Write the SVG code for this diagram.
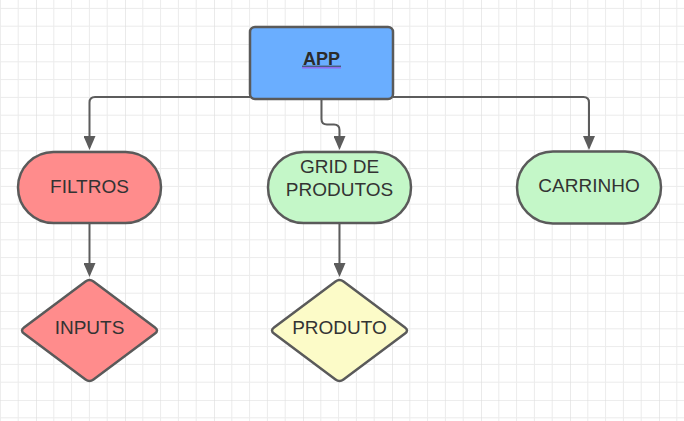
<svg xmlns="http://www.w3.org/2000/svg" width="684" height="421" viewBox="0 0 684 421">
  <defs>
    <pattern id="grid" patternUnits="userSpaceOnUse" x="36" y="44" width="89" height="89">
      <path d="M17.8,0V89M35.6,0V89M53.4,0V89M71.2,0V89M0,17.8H89M0,35.6H89M0,53.4H89M0,71.2H89" stroke="#ebebeb" stroke-width="1" fill="none"/>
      <path d="M0,0V89M0,0H89" stroke="#dcdcdc" stroke-width="1.2" fill="none"/>
    </pattern>
    <marker id="arrow" markerUnits="userSpaceOnUse" viewBox="0 0 14 12" refX="10" refY="6" markerWidth="14" markerHeight="12" orient="auto">
      <path d="M0,0 L14,6 L0,12 Z" fill="#5c5c5c"/>
    </marker>
    <style>
      .edge { fill: none; stroke: #5c5c5c; stroke-width: 2; marker-end: url(#arrow); }
      .shape { stroke: #5a5a5a; stroke-width: 2.5; }
      .label { font-family: "Liberation Sans", Arial, sans-serif; font-size: 19px; fill: #333333; text-anchor: middle; }
      .red { fill: #ff8c8c; }
      .green { fill: #c4f7c8; }
      .yellow { fill: #fcfbc8; }
      .blue { fill: #6aaeff; }
    </style>
  </defs>
  <rect width="684" height="421" fill="#ffffff"/>
  <rect width="684" height="421" fill="url(#grid)"/>

  <g id="connectors">
    <path class="edge" d="M250,97 H95 Q89.5,97 89.5,102.5 V146"/>
    <path class="edge" d="M393,97 H583.5 Q589,97 589,102.5 V146"/>
    <path class="edge" d="M321.5,99 V119 Q321.5,124.5 327,124.5 H334 Q339.5,124.5 339.5,130 V146"/>
    <path class="edge" d="M89.5,224 V273"/>
    <path class="edge" d="M339.5,224 V273"/>
  </g>

  <g id="app">
    <rect class="shape blue" x="250" y="27" width="143" height="72" rx="5"/>
    <text x="321.5" y="64.5" class="label" style="font-weight:bold;font-size:18px;fill:#2b2b2b">APP</text>
    <line x1="302" y1="66.2" x2="341" y2="66.2" stroke="#3a3a4a" stroke-width="1"/>
    <line x1="302" y1="67.8" x2="341" y2="67.8" stroke="#8f6bf0" stroke-width="1.5"/>
  </g>

  <g id="filtros">
    <rect class="shape red" x="18" y="152" width="143" height="71" rx="35.5"/>
    <text x="89.5" y="192.5" class="label">FILTROS</text>
  </g>

  <g id="grid-de-produtos">
    <rect class="shape green" x="268" y="152" width="143" height="71" rx="35.5"/>
    <text x="339.5" y="172.5" class="label">GRID DE</text>
    <text x="339.5" y="195.8" class="label">PRODUTOS</text>
  </g>

  <g id="carrinho">
    <rect class="shape green" x="517" y="151.5" width="144" height="72" rx="36"/>
    <text x="589" y="192" class="label">CARRINHO</text>
  </g>

  <g id="inputs">
    <path class="shape red" d="M24,327.5 L85.5,281.5 Q89.5,278.5 93.5,281.5 L155,327.5 Q159,330.5 155,333.5 L93.5,379.5 Q89.5,382.5 85.5,379.5 L24,333.5 Q20,330.5 24,327.5 Z"/>
    <text x="89.5" y="334" class="label">INPUTS</text>
  </g>

  <g id="produto">
    <path class="shape yellow" transform="translate(250,0)" d="M24,327.5 L85.5,281.5 Q89.5,278.5 93.5,281.5 L155,327.5 Q159,330.5 155,333.5 L93.5,379.5 Q89.5,382.5 85.5,379.5 L24,333.5 Q20,330.5 24,327.5 Z"/>
    <text x="339.5" y="334" class="label">PRODUTO</text>
  </g>
</svg>
